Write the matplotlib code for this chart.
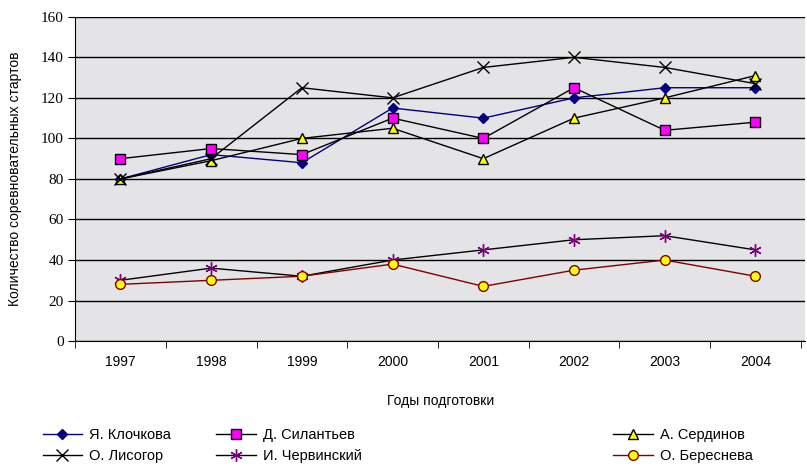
import numpy as np
import matplotlib.pyplot as plt

years = ["1997", "1998", "1999", "2000", "2001", "2002", "2003", "2004"]

klochkova = [80, 92, 88, 115, 110, 120, 125, 125]
silantyev = [90, 95, 92, 110, 100, 125, 104, 108]
serdinov = [80, 89, 100, 105, 90, 110, 120, 131]
lisogor = [80, 90, 125, 120, 135, 140, 135, 127]
chervinsky = [30, 36, 32, 40, 45, 50, 52, 45]
bereсneva = [28, 30, 32, 38, 27, 35, 40, 32]

plt.rcParams['font.family'] = ['Liberation Sans', 'DejaVu Sans']

fig = plt.figure(figsize=(8.07, 4.66), dpi=100)
ax = fig.add_axes([0.093, 0.268, 0.905, 0.696])
ax.set_facecolor('#e4e4e7')

x = np.arange(len(years))

h1, = ax.plot(x, klochkova, color='#000080', lw=1, marker='D', ms=5,
              mfc='#000080', mec='#000080', label='Я. Клочкова')
h2, = ax.plot(x, silantyev, color='black', lw=1, marker='s', ms=7,
              mfc='#ff00ff', mec='black', label='Д. Силантьев')
h3, = ax.plot(x, serdinov, color='black', lw=1, marker='^', ms=7,
              mfc='#ffff00', mec='black', label='А. Сердинов')
h4, = ax.plot(x, lisogor, color='black', lw=1, marker='x', ms=8,
              mec='black', label='О. Лисогор')
h5, = ax.plot(x, chervinsky, color='black', lw=1, marker=(6, 2, 0), ms=9,
              mec='#800080', mew=1, label='И. Червинский')
h6, = ax.plot(x, bereсneva, color='#800000', lw=1, marker='o', ms=7,
              mfc='#ffff00', mec='#800000', label='О. Береснева')

ax.set_xlim(-0.5, len(years) - 0.45)
ax.set_ylim(0, 160)
ax.set_yticks(range(0, 161, 20))
ax.set_yticklabels([str(v) for v in range(0, 161, 20)],
                   family='Liberation Serif', fontsize=11)
ax.set_xticks(x)
ax.set_xticklabels(years, fontsize=10)
ax.set_xticks(np.arange(-0.5, len(years), 1), minor=True)
ax.tick_params(axis='x', which='major', length=0, pad=10)
ax.tick_params(axis='x', which='minor', length=5, direction='out')
ax.tick_params(axis='y', length=5, direction='out', pad=3)
ax.yaxis.grid(True, color='black', lw=1)
ax.set_axisbelow(True)
for side in ['top', 'right']:
    ax.spines[side].set_visible(False)
ax.spines['left'].set_color('black')
ax.spines['bottom'].set_color('black')

ax.set_xlabel('Годы подготовки', fontsize=10, labelpad=18)
ax.set_ylabel('Количество соревновательных стартов', fontsize=10, labelpad=14)

legend_kw = dict(frameon=False, fontsize=10.5, handlelength=2.7,
                 handletextpad=0.5, labelspacing=0.45, borderpad=0)
fig.legend(handles=[h1, h4], loc='upper left', bbox_to_anchor=(0.044, 0.097), **legend_kw)
fig.legend(handles=[h2, h5], loc='upper left', bbox_to_anchor=(0.259, 0.097), **legend_kw)
fig.legend(handles=[h3, h6], loc='upper left', bbox_to_anchor=(0.751, 0.097), **legend_kw)

fig.savefig('out.png', dpi=100)
